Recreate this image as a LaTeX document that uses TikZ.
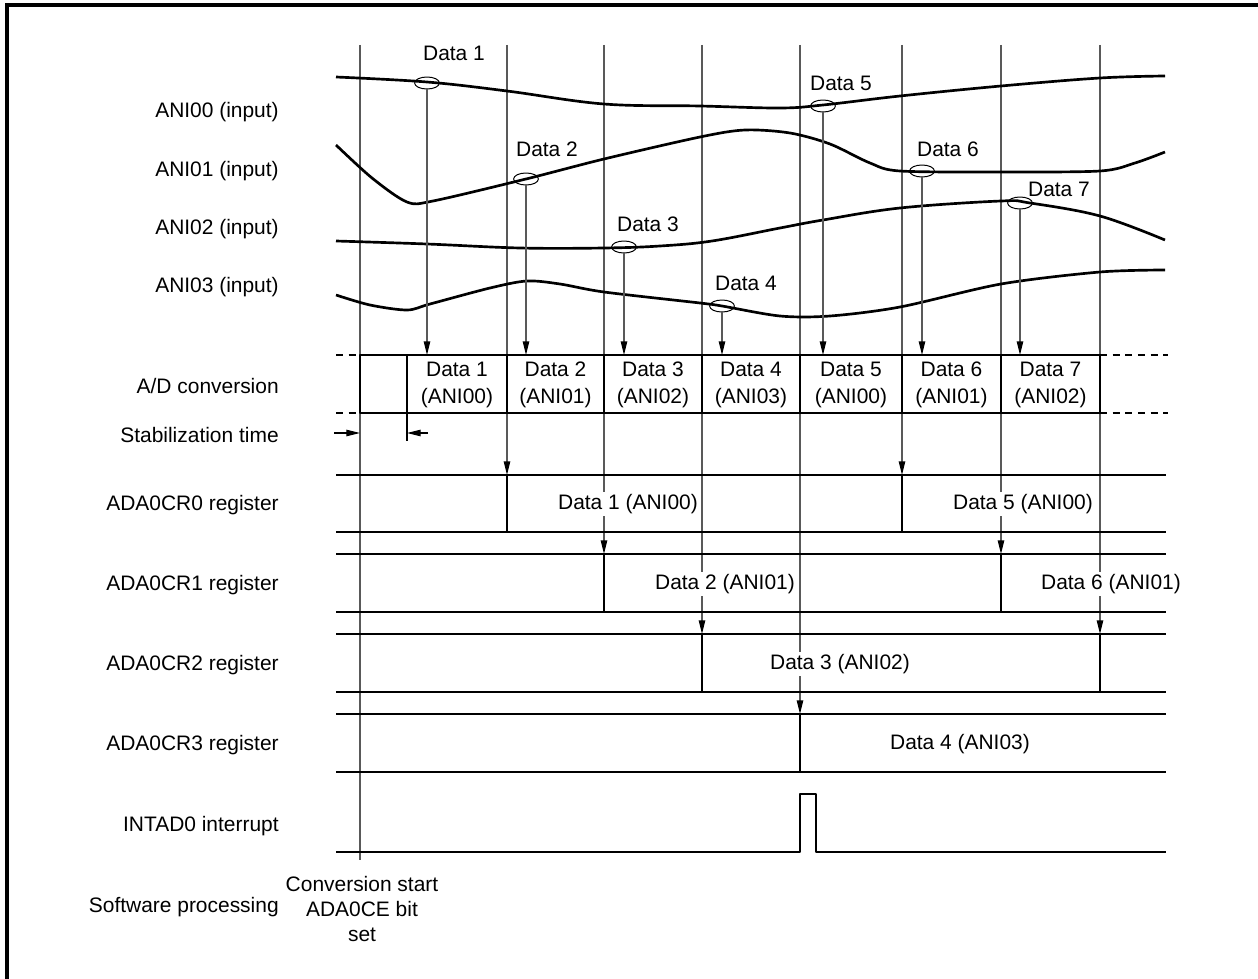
\documentclass[tikz,border=0pt]{standalone}
\usepackage{fontspec}
\setmainfont{Liberation Sans}
\usetikzlibrary{arrows.meta,shapes.geometric}

\tikzset{
  sig/.style={line width=1.9pt, line join=round},
  guide/.style={line width=0.9pt, black!65},
  tip/.style={-{Triangle[length=3.4mm,width=1.6mm,color=black]}},
  lbl/.style={anchor=east, inner sep=0pt},
  probe/.style={ellipse, draw, line width=0.7pt, minimum width=0.62cm, minimum height=0.3cm, inner sep=0pt},
  cell/.style={align=center, font=\fontsize{14.9}{19}\selectfont},
  val/.style={fill=white, inner sep=1.5pt},
}

\begin{document}
\begin{tikzpicture}[x=0.025cm, y=-0.025cm, every node/.style={font=\fontsize{14.9}{18}\selectfont}]
  \useasboundingbox (0,0) rectangle (1258,979);

  % Frame
  \draw[line width=2.2pt] (7,979) -- (7,5) -- (1258,5);

  % Row labels
  \node[lbl] (l0) at (279,112) {ANI00 (input)};
  \node[lbl] (l1) at (279,171) {ANI01 (input)};
  \node[lbl] (l2) at (279,229) {ANI02 (input)};
  \node[lbl] (l3) at (279,287) {ANI03 (input)};
  \node[lbl] (lad) at (279,386) {A/D conversion};
  \node[lbl] (lst) at (279,435) {Stabilization time};
  \node[lbl] (lr0) at (279,505) {ADA0CR0 register};
  \node[lbl] (lr1) at (279,585) {ADA0CR1 register};
  \node[lbl] (lr2) at (279,665) {ADA0CR2 register};
  \node[lbl] (lr3) at (279,745) {ADA0CR3 register};
  \node[lbl] (lint) at (279,826) {INTAD0 interrupt};
  \node[lbl] (lsw) at (279,907) {Software processing};

  % Guide lines (timing points)
  \coordinate (g0) at (360,45);   \coordinate (g0e) at (360,860);
  \coordinate (g1) at (507,45);   \coordinate (r0a) at (507,475);
  \coordinate (g2) at (604,45);   \coordinate (r1a) at (604,554);
  \coordinate (g3) at (702,45);   \coordinate (r2a) at (702,634);
  \coordinate (g4) at (800,45);   \coordinate (r3a) at (800,714);
  \coordinate (g5) at (902,45);   \coordinate (r0b) at (902,475);
  \coordinate (g6) at (1001,45);  \coordinate (r1b) at (1001,554);
  \coordinate (g7) at (1100,45);  \coordinate (r2b) at (1100,634);
  \draw[guide] (g0) -- (g0e);
  \draw[guide, tip] (g1) -- (r0a);
  \draw[guide, tip] (g2) -- (r1a);
  \draw[guide, tip] (g3) -- (r2a);
  \draw[guide, tip] (g4) -- (r3a);
  \draw[guide, tip] (g5) -- (r0b);
  \draw[guide, tip] (g6) -- (r1b);
  \draw[guide, tip] (g7) -- (r2b);

  % Analog inputs
  \draw[sig] plot[smooth, tension=0.6] coordinates {(336,77) (427,82) (507,91) (604,104) (700,106)
    (780,108) (823,105) (900,96) (1001,86) (1100,78) (1165,76)};
  \draw[sig] plot[smooth, tension=0.5] coordinates {(336,145) (372,178) (407,202) (433,201) (526,179)
    (604,159) (700,137) (745,130) (790,133) (830,144) (870,163) (900,171) (1000,172) (1100,171)
    (1135,163) (1165,152)};
  \draw[sig] plot[smooth, tension=0.6] coordinates {(336,241) (427,244) (520,248) (604,248) (660,246)
    (712,241) (780,228) (823,220) (900,208) (1001,201) (1030,203) (1100,216) (1165,240)};
  \draw[sig] plot[smooth, tension=0.5] coordinates {(336,295) (370,305) (407,310) (430,304) (490,288)
    (527,281) (560,284) (604,292) (700,303) (722,306) (780,316) (830,316) (900,307) (1001,284)
    (1100,272) (1165,270)};

  % Sampling points
  \node[probe] (s1) at (427,83) {};
  \node[probe] (s2) at (526,179) {};
  \node[probe] (s3) at (624,247) {};
  \node[probe] (s4) at (722,306) {};
  \node[probe] (s5) at (823,106) {};
  \node[probe] (s6) at (922,171) {};
  \node[probe] (s7) at (1020,203) {};
  \node (d1) at (454,53) {Data 1};
  \node (d2) at (547,149) {Data 2};
  \node (d3) at (648,224) {Data 3};
  \node (d4) at (746,283) {Data 4};
  \node (d5) at (841,83) {Data 5};
  \node (d6) at (948,149) {Data 6};
  \node (d7) at (1059,189) {Data 7};

  \foreach \i/\x in {1/427, 2/526, 3/624, 4/722, 5/823, 6/922, 7/1020}
    \coordinate (c\i) at (\x,355);
  \foreach \i in {1,...,7}
    \draw[guide, tip] (s\i) -- (c\i);

  % A/D conversion
  \draw[sig] (360,355) rectangle (1100,413);
  \foreach \x in {407,507,604,702,800,902,1001}
    \draw[sig] (\x,355) -- (\x,413);
  \draw[sig, dash pattern=on 5pt off 4pt] (336,355) -- (360,355);
  \draw[sig, dash pattern=on 5pt off 4pt] (336,413) -- (360,413);
  \draw[sig, dash pattern=on 5pt off 4pt] (1100,355) -- (1168,355);
  \draw[sig, dash pattern=on 5pt off 4pt] (1100,413) -- (1168,413);
  \node[cell] (a1) at (457,385) {Data 1\\(ANI00)};
  \node[cell] (a2) at (555.5,385) {Data 2\\(ANI01)};
  \node[cell] (a3) at (653,385) {Data 3\\(ANI02)};
  \node[cell] (a4) at (751,385) {Data 4\\(ANI03)};
  \node[cell] (a5) at (851,385) {Data 5\\(ANI00)};
  \node[cell] (a6) at (951.5,385) {Data 6\\(ANI01)};
  \node[cell] (a7) at (1050.5,385) {Data 7\\(ANI02)};

  % Stabilization time
  \coordinate (st0) at (334,433);
  \coordinate (st1) at (360,433);
  \coordinate (st2) at (407,433);
  \coordinate (st3) at (428,433);
  \draw[line width=0.8pt, tip] (st0) -- (st1);
  \draw[line width=0.8pt, tip] (st3) -- (st2);
  \draw[line width=0.8pt] (407,413) -- (407,441);

  % Registers
  \draw[sig] (336,475) -- (1166,475) (336,532) -- (1166,532);
  \draw[sig] (507,475) -- (507,532) (902,475) -- (902,532);
  \draw[sig] (336,554) -- (1166,554) (336,612) -- (1166,612);
  \draw[sig] (604,554) -- (604,612) (1001,554) -- (1001,612);
  \draw[sig] (336,634) -- (1166,634) (336,692) -- (1166,692);
  \draw[sig] (702,634) -- (702,692) (1100,634) -- (1100,692);
  \draw[sig] (336,714) -- (1166,714) (336,772) -- (1166,772);
  \draw[sig] (800,714) -- (800,772);
  \node[val] (v1) at (628,504) {Data 1 (ANI00)};
  \node[val] (v5) at (1023,504) {Data 5 (ANI00)};
  \node[val] (v2) at (725,584) {Data 2 (ANI01)};
  \node[val] (v6) at (1111,584) {Data 6 (ANI01)};
  \node[val] (v3) at (840,664) {Data 3 (ANI02)};
  \node[val] (v4) at (960,744) {Data 4 (ANI03)};

  % Interrupt
  \draw[sig] (336,852) -- (800,852) -- (800,794) -- (816,794) -- (816,852) -- (1166,852);

  % Software processing
  \node[align=center] (cs) at (362,909) {Conversion start\\ADA0CE bit\\set};
\end{tikzpicture}
\end{document}
